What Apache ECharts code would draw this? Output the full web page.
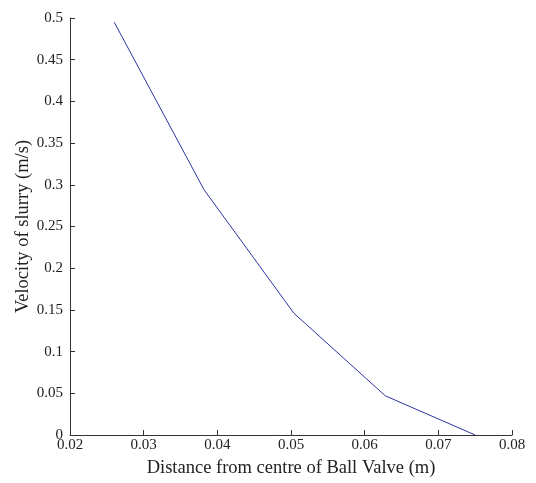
<!DOCTYPE html>
<html><head><meta charset="utf-8">
<script src="https://cdn.jsdelivr.net/npm/echarts@6/dist/echarts.min.js"></script>
<style>html,body{margin:0;padding:0;background:#fff}#c{width:536px;height:483px}</style>
</head><body><div id="c"></div>
<script>
const distance = [0.0260, 0.0382, 0.0504, 0.0628, 0.0750];
const velocity = [0.495, 0.294, 0.146, 0.047, 0.0];
const xTicks = [0.02, 0.03, 0.04, 0.05, 0.06, 0.07, 0.08];
const yTicks = [0, 0.05, 0.1, 0.15, 0.2, 0.25, 0.3, 0.35, 0.4, 0.45, 0.5];

const font = 'Liberation Serif';
const chart = echarts.init(document.getElementById('c'), null, {renderer: 'canvas'});
chart.setOption({
  animation: false,
  grid: {left: 70, right: 24, top: 18, bottom: 42, containLabel: false},
  xAxis: {
    type: 'value', min: 0.02, max: 0.08, interval: 0.01,
    name: 'Distance from centre of Ball Valve (m)', nameLocation: 'middle', nameGap: 24,
    nameMoveOverlap: false,
    nameTextStyle: {fontFamily: font, fontSize: 18.5, color: '#222'},
    axisLine: {lineStyle: {color: '#333', width: 1}},
    axisTick: {inside: true, length: 5, lineStyle: {color: '#333'}},
    axisLabel: {fontFamily: font, fontSize: 15, color: '#222', margin: 3,
      formatter: v => { const t = xTicks.find(x => Math.abs(x - v) < 1e-9); return t === undefined ? '' : String(t); }},
    splitLine: {show: false}
  },
  yAxis: {
    type: 'value', min: 0, max: 0.5, interval: 0.05,
    name: 'Velocity of slurry (m/s)', nameLocation: 'middle', nameGap: 37, nameRotate: 90,
    nameMoveOverlap: false,
    nameTextStyle: {fontFamily: font, fontSize: 18.5, color: '#222'},
    axisLine: {show: true, lineStyle: {color: '#333', width: 1}},
    axisTick: {show: true, inside: true, length: 5, lineStyle: {color: '#333'}},
    axisLabel: {fontFamily: font, fontSize: 15, color: '#222', margin: 7,
      formatter: v => { const t = yTicks.find(y => Math.abs(y - v) < 1e-9); return t === undefined ? '' : String(t); }},
    splitLine: {show: false}
  },
  series: [{
    type: 'line',
    data: distance.map((d, i) => [d, velocity[i]]),
    showSymbol: false,
    lineStyle: {color: '#2b35a0', width: 1},
    clip: false
  }]
});
</script></body></html>
